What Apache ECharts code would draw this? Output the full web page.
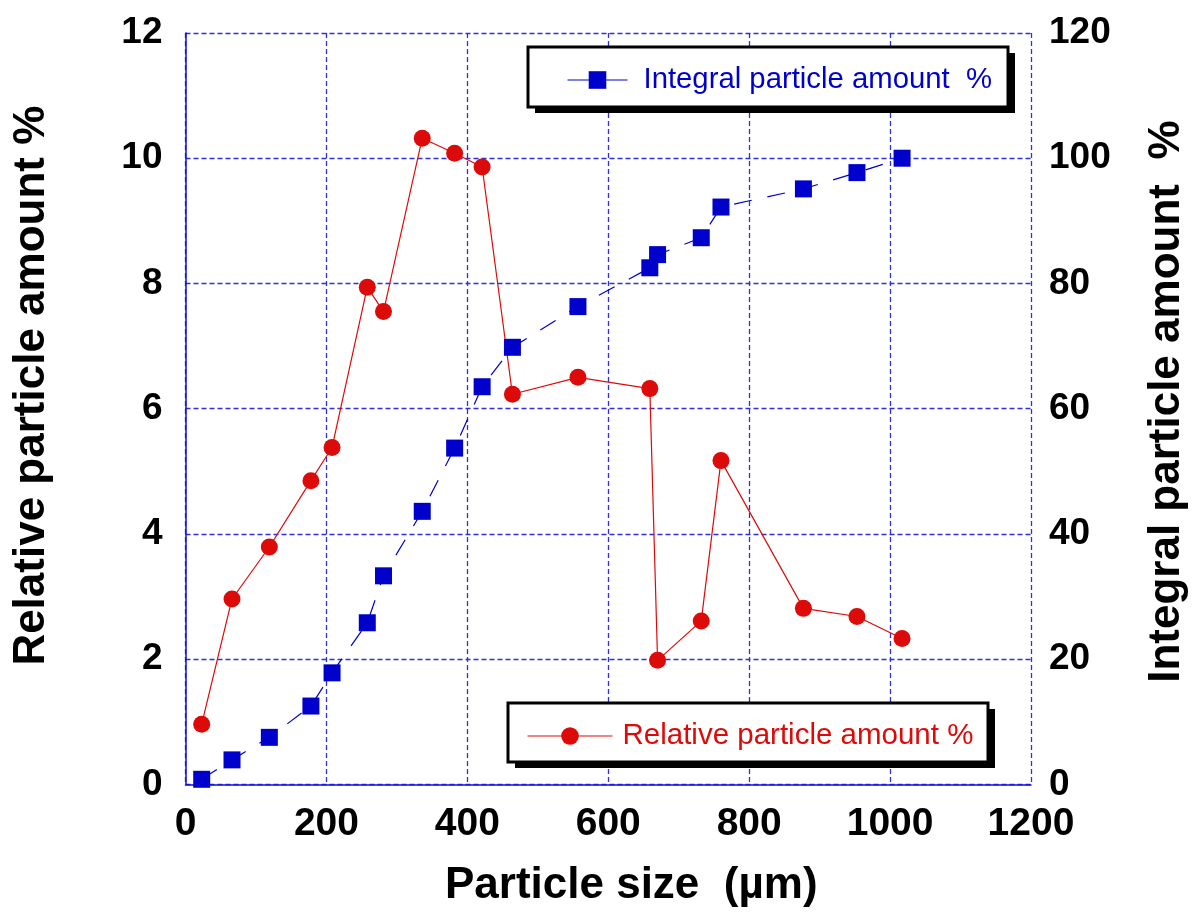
<!DOCTYPE html>
<html>
<head>
<meta charset="utf-8">
<script src="https://cdn.jsdelivr.net/npm/echarts@6/dist/echarts.min.js"></script>
<style>
html,body{margin:0;padding:0;background:#fff;}
#chart{width:1197px;height:922px;}
</style>
</head>
<body>
<div id="chart"></div>
<script>
const particleSize = [23, 66, 119, 178, 208, 258, 281, 336, 382, 421, 464, 557, 659, 670, 732, 760, 877, 953, 1017];
const relativeAmount = [0.96, 2.96, 3.79, 4.85, 5.38, 7.94, 7.55, 10.32, 10.08, 9.86, 6.23, 6.50, 6.32, 1.98, 2.61, 5.17, 2.81, 2.68, 2.33];
const integralAmount = [0.8, 3.9, 7.5, 12.5, 17.8, 25.8, 33.3, 43.6, 53.7, 63.5, 69.8, 76.3, 82.5, 84.6, 87.3, 92.2, 95.1, 97.7, 100.0];
const xTicks = {min: 0, max: 1200, interval: 200};
const leftTicks = {min: 0, max: 12, interval: 2};
const rightTicks = {min: 0, max: 120, interval: 20};
const relName = 'Relative particle amount %';
const intName = 'Integral particle amount  %';

const FONT = "'Liberation Sans', Arial, sans-serif";
const BLUE = '#0000cc';
const RED = '#dd0a0a';
const GRIDC = '#2f2fe0';

function legendBox(x, y, w, h) {
  return [
    {type: 'rect', z: 6, silent: true, shape: {x: x + 7, y: y + 6, width: w, height: h}, style: {fill: '#000'}},
    {type: 'rect', z: 7, silent: true, shape: {x: x, y: y, width: w, height: h}, style: {fill: '#fff', stroke: '#000', lineWidth: 3}}
  ];
}

const chart = echarts.init(document.getElementById('chart'));
chart.setOption({
  backgroundColor: '#fff',
  animation: false,
  grid: {left: 185.5, right: 164, top: 33, bottom: 137.7, containLabel: false},
  graphic: legendBox(528, 47, 480, 60).concat(legendBox(508, 703, 480, 59)),
  legend: [
    {
      data: [intName], left: 567, top: 65, orient: 'horizontal', z: 10,
      itemWidth: 60, itemHeight: 22, itemGap: 0, padding: 0,
      selectedMode: false,
      lineStyle: {type: 'solid', width: 1},
      textStyle: {color: BLUE, fontSize: 29.3, fontFamily: FONT, lineHeight: 30, padding: [0, 0, 0, 11]}
    },
    {
      data: [relName], left: 527, top: 721, orient: 'horizontal', z: 10,
      itemWidth: 85, itemHeight: 22, itemGap: 0, padding: 0,
      selectedMode: false,
      lineStyle: {type: 'solid', width: 1},
      textStyle: {color: RED, fontSize: 29.5, fontFamily: FONT, lineHeight: 30, padding: [0, 0, 0, 5]}
    }
  ],
  xAxis: {
    type: 'value', min: xTicks.min, max: xTicks.max, interval: xTicks.interval,
    name: 'Particle size  (µm)', nameLocation: 'middle', nameGap: 80,
    nameTextStyle: {fontSize: 44, fontWeight: 'bold', color: '#000', fontFamily: FONT, padding: [0, 0, 0, 46]},
    axisLine: {show: true, lineStyle: {color: '#1010d8', width: 1.5}},
    axisTick: {show: false},
    axisLabel: {fontSize: 39, fontWeight: 'bold', color: '#000', fontFamily: FONT, margin: 20, formatter: v => String(v)},
    splitLine: {show: true, lineStyle: {color: GRIDC, width: 1.3, type: [5, 3]}}
  },
  yAxis: [
    {
      type: 'value', position: 'left', min: leftTicks.min, max: leftTicks.max, interval: leftTicks.interval,
      name: relName, nameLocation: 'middle', nameRotate: 90, nameGap: 132,
      nameTextStyle: {fontSize: 44, fontWeight: 'bold', color: '#000', fontFamily: FONT, padding: [0, 0, 0, 46]},
      axisLine: {show: true, lineStyle: {color: '#1010d8', width: 1.5}},
      axisTick: {show: false},
      axisLabel: {fontSize: 37, fontWeight: 'bold', color: '#000', fontFamily: FONT, margin: 23},
      splitLine: {show: true, lineStyle: {color: GRIDC, width: 1.3, type: [5, 3]}}
    },
    {
      type: 'value', position: 'right', min: rightTicks.min, max: rightTicks.max, interval: rightTicks.interval,
      name: intName, nameLocation: 'middle', nameRotate: 90, nameGap: 114,
      nameTextStyle: {fontSize: 44, fontWeight: 'bold', color: '#000', fontFamily: FONT, padding: [0, 0, 0, 14]},
      axisLine: {show: false},
      axisTick: {show: false},
      axisLabel: {fontSize: 37, fontWeight: 'bold', color: '#000', fontFamily: FONT, margin: 18, align: 'left'},
      splitLine: {show: false}
    }
  ],
  series: [
    {
      name: relName, type: 'line', yAxisIndex: 0, z: 2,
      data: particleSize.map((x, i) => [x, relativeAmount[i]]),
      symbol: 'circle', symbolSize: 17,
      itemStyle: {color: RED},
      lineStyle: {color: RED, width: 1.2}
    },
    {
      name: intName, type: 'line', yAxisIndex: 1, z: 3,
      data: particleSize.map((x, i) => [x, integralAmount[i]]),
      symbol: 'rect', symbolSize: 17,
      itemStyle: {color: BLUE},
      lineStyle: {color: BLUE, width: 1.2, type: [18, 16]}
    }
  ]
});
</script>
</body>
</html>
